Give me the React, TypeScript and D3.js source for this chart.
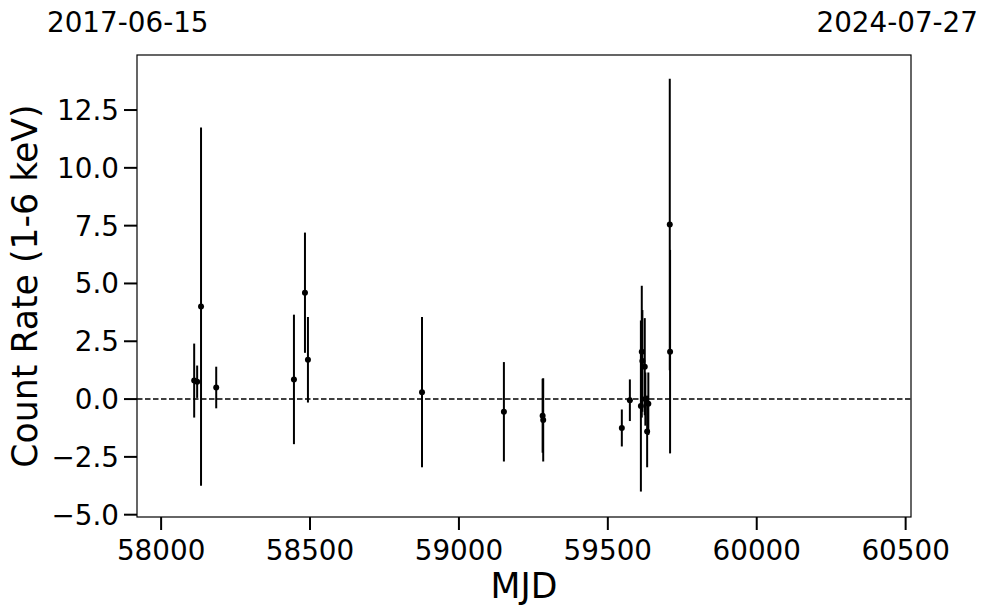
import React from "react";
import * as d3 from "d3";

const mjd = [58111, 58121, 58134, 58185, 58446, 58483, 58493, 58876, 59151, 59281, 59283, 59547, 59574, 59611, 59614, 59616, 59624, 59626, 59632, 59636, 59708, 59709];
const rate = [0.8, 0.75, 4.0, 0.5, 0.85, 4.6, 1.7, 0.3, -0.55, -0.72, -0.9, -1.25, -0.05, -0.3, 2.05, 1.65, 1.4, 0.0, -1.4, -0.2, 7.55, 2.05];
const rateErr = [1.6, 0.7, 7.75, 0.9, 2.8, 2.6, 1.85, 3.25, 2.15, 1.6, 1.8, 0.8, 0.9, 3.7, 2.85, 2.2, 2.1, 1.15, 1.55, 1.35, 6.3, 4.4];
const xTicks = [58000, 58500, 59000, 59500, 60000, 60500];
const yTicks = [-5.0, -2.5, 0.0, 2.5, 5.0, 7.5, 10.0, 12.5];
const xDomain = [57919, 60518];
const yDomain = [-5.1, 14.88];
const startDate = "2017-06-15";
const endDate = "2024-07-27";

export default function App() {
  const W = 989, H = 613;
  const L = 137, R = 911, T = 55, B = 517;
  const x = d3.scaleLinear().domain(xDomain).range([L, R]);
  const y = d3.scaleLinear().domain(yDomain).range([B, T]);
  const font = "DejaVu Sans";
  const tickLen = 13;
  return (
    <svg width={W} height={H} style={{ position: "absolute", left: 0, top: 0, display: "block" }} fontFamily={font}>
      <rect x={0} y={0} width={W} height={H} fill="white" />
      <line x1={L} x2={R} y1={y(0)} y2={y(0)} stroke="black" strokeWidth={1.5} strokeDasharray="5.5,2.5" />
      {mjd.map((m, i) => (
        <line key={"e" + i} x1={x(m)} x2={x(m)} y1={y(rate[i] + rateErr[i])} y2={y(rate[i] - rateErr[i])} stroke="black" strokeWidth={2} />
      ))}
      {mjd.map((m, i) => (
        <circle key={"p" + i} cx={x(m)} cy={y(rate[i])} r={3} fill="black" />
      ))}
      <rect x={L} y={T} width={R - L} height={B - T} fill="none" stroke="black" strokeWidth={1.2} />
      {xTicks.map((t) => (
        <g key={"xt" + t}>
          <line x1={x(t)} x2={x(t)} y1={B} y2={B + tickLen} stroke="black" strokeWidth={2} />
          <text x={x(t)} y={560} fontSize={27.8} textAnchor="middle">{t}</text>
        </g>
      ))}
      {yTicks.map((t) => (
        <g key={"yt" + t}>
          <line x1={L} x2={L - tickLen} y1={y(t)} y2={y(t)} stroke="black" strokeWidth={2} />
          <text x={L - tickLen - 5} y={y(t)} dy="0.36em" fontSize={27.8} textAnchor="end">{(t < 0 ? "\u2212" : "") + Math.abs(t).toFixed(1)}</text>
        </g>
      ))}
      <text x={(L + R) / 2} y={598} fontSize={34.7} textAnchor="middle">MJD</text>
      <text transform={`translate(37,${(T + B) / 2}) rotate(-90)`} fontSize={34.7} textAnchor="middle">Count Rate (1-6 keV)</text>
      <text x={47} y={32} fontSize={27.8} textAnchor="start">{startDate}</text>
      <text x={978} y={32} fontSize={27.8} textAnchor="end">{endDate}</text>
    </svg>
  );
}
